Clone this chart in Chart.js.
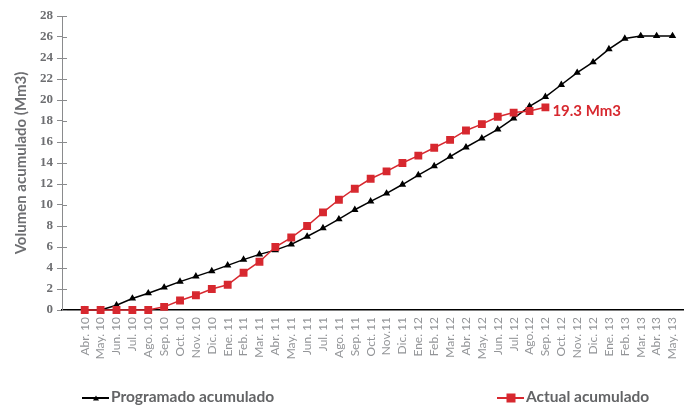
<!DOCTYPE html>
<html lang="es">
<head>
<meta charset="UTF-8">
<title>Volumen acumulado</title>
<script src="https://cdn.jsdelivr.net/npm/chart.js"></script>
<style>
  html, body { margin: 0; padding: 0; background: #fff; }
  #wrap { position: relative; width: 694px; height: 405px; }
  .leyenda { position: absolute; top: 387px; font: bold 15.5px Lato, sans-serif; color: #636466; white-space: nowrap; }
  .simbolo { display: inline-block; position: relative; width: 27px; height: 10px; vertical-align: middle; margin-right: 2px; }
  .simbolo .linea { position: absolute; left: 0; right: 0; top: 4px; height: 2px; }
  .simbolo .marca { position: absolute; left: 50%; top: 50%; transform: translate(-50%, -50%); }
</style>
</head>
<body>
<div id="wrap">
  <canvas id="grafico" width="694" height="405"></canvas>
  <div class="leyenda" style="left:82px">
    <span class="simbolo"><span class="linea" style="background:#000"></span><span class="marca" style="width:0;height:0;border-left:3px solid transparent;border-right:3px solid transparent;border-bottom:5px solid #000"></span></span>Programado acumulado
  </div>
  <div class="leyenda" style="left:497px">
    <span class="simbolo"><span class="linea" style="background:#d7282f"></span><span class="marca" style="width:9px;height:9px;background:#d7282f"></span></span>Actual acumulado
  </div>
</div>
<script>
// meses (eje x)
const meses = ['Abr. 10', 'May. 10', 'Jun. 10', 'Jul. 10', 'Ago. 10', 'Sep. 10', 'Oct. 10', 'Nov. 10', 'Dic. 10',
    'Ene. 11', 'Feb. 11', 'Mar. 11', 'Abr. 11', 'May. 11', 'Jun. 11', 'Jul. 11', 'Ago. 11', 'Sep. 11', 'Oct. 11', 'Nov.11', 'Dic. 11',
    'Ene. 12', 'Feb. 12', 'Mar. 12', 'Abr. 12', 'May. 12', 'Jun. 12', 'Jul. 12', 'Ago.12', 'Sep. 12', 'Oct. 12', 'Nov. 12', 'Dic. 12',
    'Ene. 13', 'Feb. 13', 'Mar. 13', 'Abr. 13', 'May. 13'];

// volumen programado acumulado (Mm3)
const programado = [0, 0, 0.45, 1.1, 1.6, 2.15, 2.7, 3.2, 3.7, 4.25, 4.8, 5.3, 5.7, 6.25, 7.0, 7.8, 8.65, 9.55,
    10.35, 11.1, 11.95, 12.85, 13.7, 14.6, 15.5, 16.35, 17.2, 18.25, 19.4, 20.3, 21.45, 22.6, 23.6, 24.85,
    25.85, 26.1, 26.1, 26.1];

// volumen real acumulado (Mm3), hasta Sep. 12
const actual = [0, 0, 0, 0, 0, 0.3, 0.9, 1.4, 2.0, 2.4, 3.55, 4.6, 6.0, 6.9, 8.0, 9.3, 10.5, 11.55, 12.5,
    13.2, 14.0, 14.7, 15.45, 16.2, 17.1, 17.7, 18.4, 18.8, 18.95, 19.3];

const etiquetaFinal = '19.3 Mm3';

const rojo = '#d7282f';
const gris = '#6d6e71';

// marcas del eje y que cruzan la línea
const marcasY = {
    id: 'marcasY',
    beforeDatasetsDraw(chart) {
        const y = chart.scales.y, ctx = chart.ctx;
        ctx.save();
        ctx.strokeStyle = '#8a8b8d';
        ctx.lineWidth = 1;
        y.ticks.forEach(t => {
            const py = Math.round(y.getPixelForValue(t.value)) + 0.5;
            ctx.beginPath();
            ctx.moveTo(y.right, py);
            ctx.lineTo(y.right + 5, py);
            ctx.stroke();
        });
        ctx.restore();
    }
};

// texto al final de la serie real
const textoFinal = {
    id: 'textoFinal',
    afterDatasetsDraw(chart) {
        const meta = chart.getDatasetMeta(0);
        const p = meta.data[meta.data.length - 1];
        const ctx = chart.ctx;
        ctx.save();
        ctx.fillStyle = rojo;
        ctx.font = 'bold 15px Lato, sans-serif';
        ctx.textBaseline = 'middle';
        ctx.fillText(etiquetaFinal, p.x + 7, p.y + 4);
        ctx.restore();
    }
};

new Chart(document.getElementById('grafico'), {
    type: 'line',
    data: {
        datasets: [{
            label: 'Actual acumulado',
            data: actual.map((v, i) => ({ x: i, y: v })),
            borderColor: rojo,
            backgroundColor: rojo,
            borderWidth: 1.5,
            pointStyle: 'rect',
            pointRadius: 4.5,
            pointHoverRadius: 4.5,
            clip: false,
            order: 0
        }, {
            label: 'Programado acumulado',
            data: programado.map((v, i) => ({ x: i, y: v })),
            borderColor: '#000',
            backgroundColor: '#000',
            borderWidth: 1.5,
            pointStyle: 'triangle',
            pointRadius: 2.8,
            pointHoverRadius: 2.8,
            clip: false,
            order: 1
        }]
    },
    options: {
        responsive: false,
        animation: false,
        layout: { padding: { top: 16, right: 6, left: 0, bottom: 0 } },
        plugins: {
            legend: { display: false },
            tooltip: { enabled: false }
        },
        scales: {
            x: {
                type: 'linear',
                min: -1.43,
                max: 37.68,
                afterBuildTicks: scale => { scale.ticks = meses.map((_, i) => ({ value: i })); },
                afterFit: scale => { scale.height = 95; },
                grid: { drawOnChartArea: false, drawTicks: false },
                border: { color: '#000', width: 1.5 },
                ticks: {
                    autoSkip: false,
                    minRotation: 90,
                    maxRotation: 90,
                    padding: 7,
                    color: '#939598',
                    font: { family: 'Lato', size: 12 },
                    callback: v => meses[v]
                }
            },
            y: {
                min: 0,
                max: 28,
                afterFit: scale => { scale.width = 62; },
                grid: { drawOnChartArea: false, tickLength: 5, color: '#8a8b8d' },
                border: { color: '#8a8b8d', width: 1 },
                ticks: {
                    stepSize: 2,
                    padding: 4,
                    color: gris,
                    font: { family: 'Liberation Serif', size: 13, weight: 'bold' }
                },
                title: {
                    display: true,
                    text: 'Volumen acumulado (Mm3)',
                    color: gris,
                    padding: { top: 12, bottom: 0 },
                    font: { family: 'Lato', size: 15, weight: 'bold' }
                }
            }
        }
    },
    plugins: [marcasY, textoFinal]
});
</script>
</body>
</html>
